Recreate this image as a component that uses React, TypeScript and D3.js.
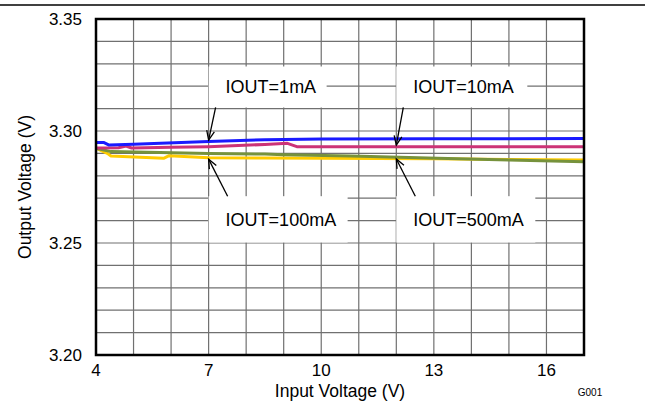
import React from "react";
import { scaleLinear, line, range } from "d3";

// input voltage (V) / output voltage (V) per load current
const vin1mA = [4, 4.2, 4.35, 5, 7, 8.5, 10, 13, 17];
const vout1mA = [3.2949, 3.2949, 3.2937, 3.2941, 3.2953, 3.2961, 3.2964, 3.2965, 3.2966];

const vin10mA = [4, 4.6, 4.8, 4.95, 6, 7, 8.5, 9.1, 9.35, 12, 17];
const vout10mA = [3.2924, 3.2925, 3.2933, 3.2924, 3.2927, 3.293, 3.294, 3.2945, 3.293, 3.293, 3.293];

const vin100mA = [4, 4.3, 4.4, 5.8, 5.95, 7, 8.5, 10, 13, 15, 17];
const vout100mA = [3.2923, 3.29, 3.2888, 3.2878, 3.289, 3.2881, 3.2879, 3.2878, 3.2876, 3.2873, 3.287];

const vin500mA = [4, 4.4, 7, 8.5, 9, 10.8, 13.1, 15, 17];
const vout500mA = [3.2923, 3.2908, 3.29, 3.2897, 3.2894, 3.2888, 3.2878, 3.2871, 3.2863];

const xTicks = [4, 7, 10, 13, 16];
const yTicks = ["3.20", "3.25", "3.30", "3.35"];

const noteLabels = ["IOUT=1mA", "IOUT=10mA", "IOUT=100mA", "IOUT=500mA"];
const noteTipVin = [7, 12, 7, 12];
const noteTipVout = [3.2953, 3.293, 3.2881, 3.2882];

const FONT = "'Liberation Sans', Arial, sans-serif";

const width = 645;
const height = 409;
const margin = { top: 19, right: 61, bottom: 54, left: 96 };

const x = scaleLinear().domain([4, 17]).range([margin.left, width - margin.right]);
const y = scaleLinear().domain([3.2, 3.35]).range([height - margin.bottom, margin.top]);

const series = [
  { vin: vin100mA, vout: vout100mA, color: "#ffcc00" },
  { vin: vin500mA, vout: vout500mA, color: "#76923c" },
  { vin: vin10mA, vout: vout10mA, color: "#cc3377" },
  { vin: vin1mA, vout: vout1mA, color: "#1a1aff" },
];

// box layout: [top, bottom] in volts, width in px
const boxBands = [
  [3.3288, 3.3105],
  [3.3288, 3.3105],
  [3.2709, 3.2502],
  [3.2709, 3.2502],
];
const boxWidths = [118, 131, 139, 139];

function Arrow({ x1, y1, x2, y2 }: { x1: number; y1: number; x2: number; y2: number }) {
  const a = Math.atan2(y2 - y1, x2 - x1);
  const len = 10;
  const spread = 0.4;
  const h1 = [x2 - len * Math.cos(a - spread), y2 - len * Math.sin(a - spread)];
  const h2 = [x2 - len * Math.cos(a + spread), y2 - len * Math.sin(a + spread)];
  return (
    <g stroke="#000" strokeWidth={1.3} fill="none">
      <line x1={x1} y1={y1} x2={x2} y2={y2} />
      <polyline points={`${h1[0]},${h1[1]} ${x2},${y2} ${h2[0]},${h2[1]}`} />
    </g>
  );
}

export default function App() {
  const path = line<[number, number]>()
    .x((d) => x(d[0]))
    .y((d) => y(d[1]));

  const [x0, x1] = x.range();
  const [y0, y1] = y.range();

  return (
    <svg
      width={width}
      height={height}
      style={{ position: "absolute", left: 0, top: 0, background: "#fff" }}
      fontFamily={FONT}
    >
      <line x1={0} x2={width} y1={5} y2={5} stroke="#000" strokeWidth={1.5} />

      {/* grid */}
      <g stroke="#707070" strokeWidth={1.2}>
        {range(4, 18).map((v) => (
          <line key={`gx${v}`} x1={x(v)} x2={x(v)} y1={y1} y2={y0} />
        ))}
        {range(0, 16).map((i) => (
          <line key={`gy${i}`} x1={x0} x2={x1} y1={y(3.2 + i * 0.01)} y2={y(3.2 + i * 0.01)} />
        ))}
      </g>

      {series.map((s, i) => (
        <path
          key={i}
          d={path(s.vin.map((v, j) => [v, s.vout[j]] as [number, number])) || ""}
          fill="none"
          stroke={s.color}
          strokeWidth={3}
          strokeLinejoin="round"
        />
      ))}

      {noteLabels.map((label, i) => {
        const left = x(noteTipVin[i]);
        const top = y(boxBands[i][0]);
        const bottom = y(boxBands[i][1]);
        const upper = i < 2;
        const tipX = x(noteTipVin[i]);
        const tipY = y(noteTipVout[i]);
        return (
          <g key={label}>
            <rect x={left} y={top} width={boxWidths[i]} height={bottom - top} fill="#fff" />
            <text x={left + 17} y={(top + bottom) / 2} dy="0.36em" fontSize={18} fill="#000">
              {label}
            </text>
            {upper ? (
              <Arrow x1={tipX + 7} y1={bottom} x2={tipX} y2={tipY - 1.5} />
            ) : (
              <Arrow x1={tipX + 19} y1={top} x2={tipX} y2={tipY + 1.5} />
            )}
          </g>
        );
      })}

      {/* plot frame */}
      <rect x={x0} y={y1} width={x1 - x0} height={y0 - y1} fill="none" stroke="#000" strokeWidth={2.5} />

      {yTicks.map((t) => (
        <text key={t} x={82} y={y(+t)} dy="0.36em" textAnchor="end" fontSize={17} fill="#000">
          {t}
        </text>
      ))}
      {xTicks.map((t) => (
        <text key={t} x={x(t)} y={376} textAnchor="middle" fontSize={17} fill="#000">
          {t}
        </text>
      ))}

      <text x={(x0 + x1) / 2} y={397} textAnchor="middle" fontSize={17.5} fill="#000">
        Input Voltage (V)
      </text>
      <text
        transform={`translate(31, ${(y0 + y1) / 2}) rotate(-90)`}
        textAnchor="middle"
        fontSize={17.5}
        fill="#000"
      >
        Output Voltage (V)
      </text>
      <text x={590} y={396} textAnchor="middle" fontSize={10} fill="#000">
        G001
      </text>
    </svg>
  );
}
